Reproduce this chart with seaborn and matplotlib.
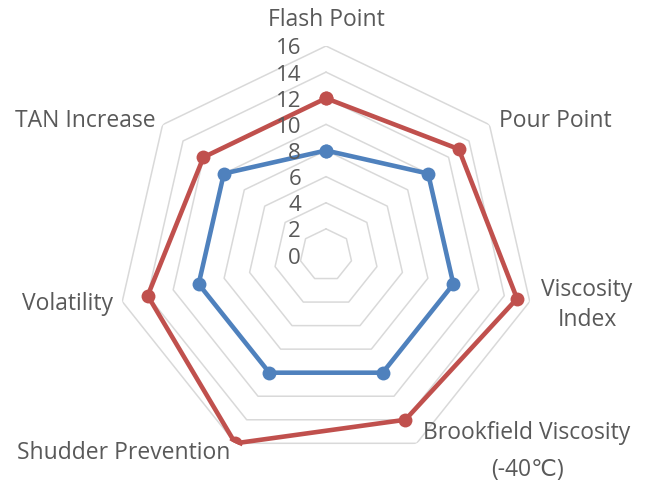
import numpy as np
import pandas as pd
import matplotlib
matplotlib.use("Agg")
import matplotlib.pyplot as plt
import seaborn as sns

categories = ["Flash Point", "Pour Point", "Viscosity\nIndex", "Brookfield Viscosity",
              "Shudder Prevention", "Volatility", "TAN Increase"]
category_sub = ["", "", "", "(-40℃)", "", "", ""]
red_values = [12, 13, 15, 14, 16, 14, 12]
blue_values = [8, 10, 10, 10, 10, 10, 10]
tick_values = [0, 2, 4, 6, 8, 10, 12, 14, 16]

sns.set_theme(style="white")
plt.rcParams['font.family'] = ['Open Sans', 'DejaVu Sans']

W, H = 647, 485
fig = plt.figure(figsize=(W / 100, H / 100), dpi=100)
cx, cy, R = 326, 256, 209
ax = fig.add_axes([(cx - R) / W, (H - cy - R) / H, 2 * R / W, 2 * R / H], projection="polar")
ax.set_theta_zero_location("N")
ax.set_theta_direction(-1)
ax.set_ylim(0, 16)
ax.grid(False)
ax.spines["polar"].set_visible(False)
ax.set_xticks([])
ax.set_yticks([])
ax.patch.set_alpha(0)

n = len(categories)
theta = np.linspace(0, 2 * np.pi, n, endpoint=False)
theta_closed = np.append(theta, theta[0])

# heptagonal grid
for v in tick_values[1:]:
    ax.plot(theta_closed, [v] * (n + 1), color="#D9D9D9", lw=1.1, zorder=1)

rows = []
for name, vals in [("red", red_values), ("blue", blue_values)]:
    vv = list(vals) + [vals[0]]
    for i, (t, v) in enumerate(zip(theta_closed, vv)):
        rows.append({"series": name, "theta": t, "value": v, "order": i})
df = pd.DataFrame(rows)

sns.lineplot(data=df, x="theta", y="value", hue="series", sort=False, estimator=None,
             palette={"red": "#C0504D", "blue": "#4F81BD"}, marker="o", markersize=10,
             markeredgewidth=0, lw=3.3, ax=ax, legend=False, zorder=3)
ax.set_xlabel("")
ax.set_ylabel("")
ax.set_ylim(0, 16)

# radial tick labels
for v in tick_values:
    r_px = v / 16 * R
    fig.text((cx - 25) / W, (H - (cy - r_px) - 2) / H, str(v), ha="right", va="center",
             fontsize=16, color="#595959")

label_pos = [(326, 20), (555, 121), (587, 305), (527, 433), (124, 453), (68, 304), (85, 121)]
sub_pos = [None, None, None, (527, 470), None, None, None]
for lab, sub, pos, spos in zip(categories, category_sub, label_pos, sub_pos):
    fig.text(pos[0] / W, (H - pos[1]) / H, lab, ha="center", va="center", fontsize=16.5,
             color="#595959", linespacing=1.35)
    if sub:
        fig.text(spos[0] / W, (H - spos[1]) / H, sub, ha="center", va="center", fontsize=16.5,
                 color="#595959")

fig.savefig("out.png", dpi=100)
